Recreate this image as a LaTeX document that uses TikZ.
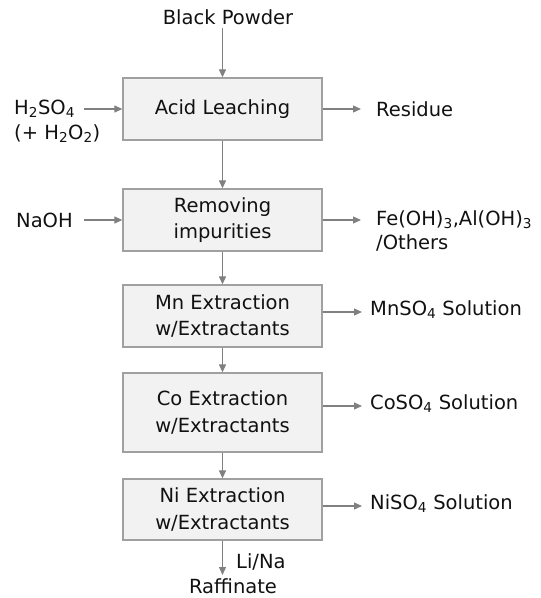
\documentclass[tikz,border=0pt]{standalone}
\usepackage{fontspec}
\setmainfont{DejaVu Sans}
\usetikzlibrary{arrows.meta}
\definecolor{boxfill}{HTML}{F2F2F2}
\definecolor{boxline}{HTML}{A0A0A0}
\definecolor{arr}{HTML}{808080}
\definecolor{txt}{HTML}{111111}
\begin{document}
\begin{tikzpicture}[x=1pt,y=-1pt,
  every node/.style={text=txt,font=\fontsize{19.5}{26.5}\selectfont,inner sep=0pt},
  stepbox/.style={draw=boxline,line width=1.3pt,fill=boxfill,minimum width=199pt,align=center},
  flow/.style={draw=arr,line width=1.2pt,-{Triangle[length=8pt,width=7pt]}},
  lbl/.style={anchor=west,align=left}]
\useasboundingbox (0,0) rectangle (541,598);
% boxes
\node[stepbox,minimum height=62pt] (A) at (222.5,109) {Acid Leaching};
\node[stepbox,minimum height=62pt] (B) at (222.5,220) {Removing\\impurities};
\node[stepbox,minimum height=62pt] (Mn) at (222.5,316) {Mn Extraction\\w/Extractants};
\node[stepbox,minimum height=79pt] (Co) at (222.5,412.5) {Co Extraction\\w/Extractants};
\node[stepbox,minimum height=61pt] (Ni) at (222.5,509.5) {Ni Extraction\\w/Extractants};
% labels
\node (bp) at (228,17) {Black Powder};
\node[lbl,font=\fontsize{19.5}{25}\selectfont] (h2) at (14,121) {H\textsubscript{2}SO\textsubscript{4}\\(+ H\textsubscript{2}O\textsubscript{2})};
\node[lbl] (res) at (376,109) {Residue};
\node[lbl] (naoh) at (16,220) {NaOH};
\node[lbl,font=\fontsize{19.5}{24}\selectfont] (fe) at (376,231) {Fe(OH)\textsubscript{3},Al(OH)\textsubscript{3}\\/Others};
\node[lbl] (mns) at (370,310) {MnSO\textsubscript{4} Solution};
\node[lbl] (cos) at (370,404) {CoSO\textsubscript{4} Solution};
\node[lbl] (nis) at (370,504) {NiSO\textsubscript{4} Solution};
\node[lbl] (lina) at (236,562) {Li/Na};
\node (raff) at (233,586) {Raffinate};
% coordinates
\coordinate (bpout) at (222.5,28);
\coordinate (h2out) at (84,109);
\coordinate (naohout) at (84,220);
\coordinate (resin) at (361,109);
\coordinate (fein) at (361,220);
\coordinate (mnin) at (362,312);
\coordinate (coin) at (362,406);
\coordinate (niin) at (362,506);
\coordinate (raffin) at (222.5,575);
% connectors
\draw[flow] (bpout) -- (A.north);
\draw[flow] (h2out) -- (A.west);
\draw[flow] (A.east) -- (resin);
\draw[flow] (A.south) -- (B.north);
\draw[flow] (naohout) -- (B.west);
\draw[flow] (B.east) -- (fein);
\draw[flow] (B.south) -- (Mn.north);
\draw[flow] (Mn.east |- mnin) -- (mnin);
\draw[flow] (Mn.south) -- (Co.north);
\draw[flow] (Co.east |- coin) -- (coin);
\draw[flow] (Co.south) -- (Ni.north);
\draw[flow] (Ni.east |- niin) -- (niin);
\draw[flow] (Ni.south) -- (raffin);
\end{tikzpicture}
\end{document}
